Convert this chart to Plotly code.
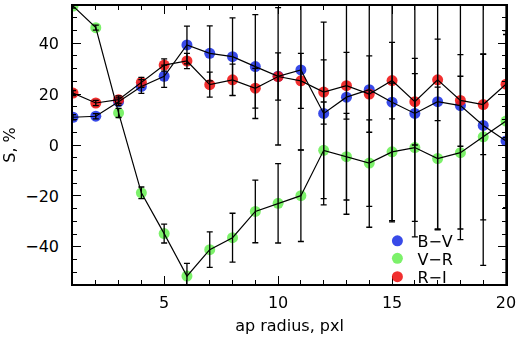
import plotly.graph_objects as go

radius = list(range(1, 21))

bv = [10.9, 11.3, 17.0, 23.0, 27.0, 39.3, 36.0, 34.7, 30.8, 27.0,
      29.5, 12.4, 18.8, 21.7, 16.8, 12.4, 17.0, 15.5, 7.7, 1.6]
bv_err = [1.0, 1.0, 1.5, 2.7, 4.4, 7.4, 10.8, 15.2, 20.4, 27.0,
          31.5, 35.9, 46.0, 54.0, 47.0, 48.5, 50.0, 52.7, 55.0, 57.0]

vr = [54.6, 46.1, 12.6, -18.8, -34.8, -51.5, -41.1, -36.4, -26.1, -22.9,
      -19.9, -2.1, -4.6, -7.1, -2.7, -1.0, -5.3, -3.0, 3.2, 9.4]
vr_err = [0.8, 1.0, 1.8, 2.3, 3.7, 5.0, 7.0, 9.6, 12.3, 15.6,
          18.0, 19.0, 17.0, 17.0, 27.0, 29.0, 28.0, 30.0, 32.6, 34.0]

ri = [20.4, 16.5, 17.8, 24.6, 31.4, 33.0, 23.7, 25.6, 22.3, 26.9,
      25.2, 20.8, 23.3, 20.0, 25.3, 17.0, 25.6, 17.5, 15.9, 23.9]
ri_err = [1.0, 1.0, 1.5, 2.0, 2.4, 3.0, 4.9, 6.2, 7.8, 9.3,
          10.8, 12.6, 13.1, 15.0, 15.0, 17.0, 16.0, 18.0, 19.7, 21.0]

names = ["B\u2212V", "V\u2212R", "R\u2212I"]
colors = ["rgb(35,55,230)", "rgb(110,240,90)", "rgb(240,25,25)"]
series = [(bv, bv_err), (vr, vr_err), (ri, ri_err)]

FONT = "DejaVu Sans"
fig = go.Figure()

# markers
for (vals, err), col in zip(series, colors):
    fig.add_trace(go.Scatter(x=radius, y=vals, mode="markers",
                             marker=dict(color=col, size=11, line=dict(width=0)),
                             opacity=0.9, showlegend=False))
# lines + error bars on top
for (vals, err), col in zip(series, colors):
    fig.add_trace(go.Scatter(x=radius, y=vals, mode="lines",
                             line=dict(color="black", width=1.2),
                             error_y=dict(type="data", array=err, visible=True,
                                          color="black", thickness=1.3, width=3),
                             showlegend=False))

# legend entries, one legend each so rows sit where the reference has them
legend_ids = ["legend", "legend2", "legend3"]
for name, col, lid in zip(names, colors, legend_ids):
    fig.add_trace(go.Scatter(x=[None], y=[None], mode="markers", name=name,
                             marker=dict(color=col, size=11), opacity=0.9,
                             legend=lid, showlegend=True))

leg_y = [0.155, 0.092, 0.026]
leg_common = dict(x=0.703, xanchor="left", yanchor="middle",
                  bgcolor="rgba(0,0,0,0)", borderwidth=0,
                  font=dict(family=FONT, size=16, color="black"))

axis_common = dict(showline=True, linecolor="black", linewidth=1.5, mirror="allticks",
                   ticks="inside", ticklen=8, tickwidth=1.2, tickcolor="black",
                   showgrid=False, zeroline=False,
                   tickfont=dict(family=FONT, size=16, color="black"))

fig.update_xaxes(range=[1, 20], tickvals=[5, 10, 15, 20], ticklabelstandoff=3,
                 minor=dict(dtick=1, ticks="inside", ticklen=4, tickcolor="black", tickwidth=1),
                 title=dict(text="ap radius, pxl", font=dict(family=FONT, size=16, color="black"),
                            standoff=9),
                 **axis_common)
fig.update_yaxes(range=[-54.6, 54.6], tickvals=[-40, -20, 0, 20, 40], ticklabelstandoff=9,
                 minor=dict(dtick=5, ticks="inside", ticklen=4, tickcolor="black", tickwidth=1),
                 title=dict(text="S, %", font=dict(family=FONT, size=16, color="black"),
                            standoff=8),
                 **axis_common)

fig.update_layout(
    width=520, height=338,
    margin=dict(l=73, r=12, t=4, b=54),
    paper_bgcolor="white", plot_bgcolor="white",
    showlegend=True,
    legend=dict(y=leg_y[0], **leg_common),
    legend2=dict(y=leg_y[1], **leg_common),
    legend3=dict(y=leg_y[2], **leg_common),
)

fig.write_html("out.html", config={"displayModeBar": False},
               post_script="document.body.style.margin='0';")
